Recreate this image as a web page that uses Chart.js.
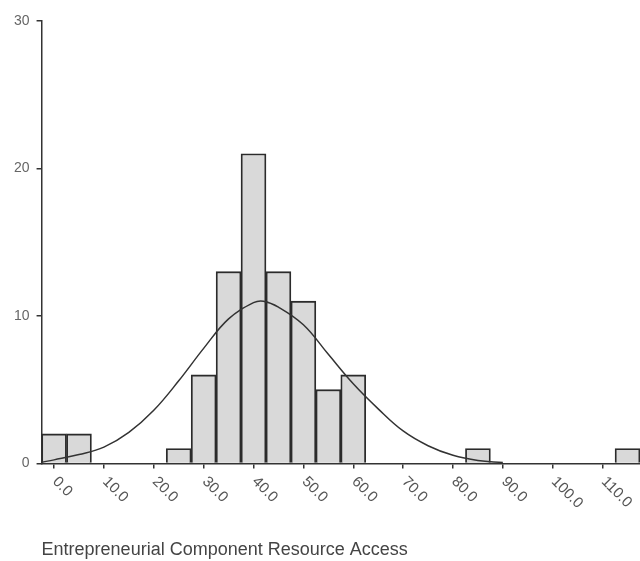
<!DOCTYPE html>
<html>
<head>
<meta charset="utf-8">
<script src="https://cdn.jsdelivr.net/npm/chart.js@4"></script>
<style>
  html, body { margin: 0; padding: 0; background: #fff; }
  #wrap { width: 640px; height: 561px; position: relative; }
</style>
</head>
<body>
<div id="wrap"><canvas id="chart"></canvas></div>
<script>
// histogram bins (midpoints, bin width 5) and counts
const binCenters = [0, 5, 25, 30, 35, 40, 45, 50, 55, 60, 85, 115];
const binCounts  = [2, 2, 1, 6, 13, 21, 13, 11, 5, 6, 1, 1];

// normal curve drawn over the histogram
const curveX = [-2.5, 0, 5, 10, 15, 20, 25, 30, 35, 40, 42, 45, 50, 55, 60, 65, 70, 75, 80, 85, 90];
const curveY = [0.08, 0.24, 0.6, 1.1, 2.1, 3.6, 5.6, 7.8, 9.8, 10.9, 11.0, 10.6, 9.4, 7.4, 5.4, 3.7, 2.2, 1.2, 0.55, 0.2, 0.06];

// axes
const xTicks = [0, 10, 20, 30, 40, 50, 60, 70, 80, 90, 100, 110];
const xTickLabels = ['0.0', '10.0', '20.0', '30.0', '40.0', '50.0', '60.0', '70.0', '80.0', '90.0', '100.0', '110.0'];
const yTicks = [0, 10, 20, 30];
const xTitle = 'Entrepreneurial Component Resource Access';

const FONT = '"Liberation Sans", Arial, sans-serif';

// x labels run down-right from each tick, which Chart.js can't rotate that way
const slantedLabels = {
    id: 'slantedLabels',
    afterDraw(chart) {
        const { ctx, scales: { x } } = chart;
        ctx.save();
        ctx.font = '15px ' + FONT;
        ctx.fillStyle = '#555';
        ctx.textAlign = 'left';
        ctx.textBaseline = 'middle';
        xTicks.forEach((v, i) => {
            ctx.save();
            ctx.translate(x.getPixelForValue(v) + 1, x.top + 16);
            ctx.rotate(Math.PI / 4);
            ctx.fillText(xTickLabels[i], 0, 0);
            ctx.restore();
        });
        ctx.restore();
    }
};

new Chart(document.getElementById('chart'), {
    data: {
        datasets: [
            {
                type: 'line',
                data: curveX.map((v, i) => ({ x: v, y: curveY[i] })),
                borderColor: '#333',
                borderWidth: 1.5,
                pointRadius: 0,
                fill: false,
                tension: 0.4,
                order: 0
            },
            {
                type: 'bar',
                data: binCenters.map((v, i) => ({ x: v, y: binCounts[i] })),
                backgroundColor: '#d9d9d9',
                borderColor: '#2b2b2b',
                borderWidth: 1.8,
                barPercentage: 1,
                categoryPercentage: 1,
                grouped: false,
                order: 1
            }
        ]
    },
    options: {
        responsive: true,
        maintainAspectRatio: false,
        animation: false,
        layout: { padding: { top: 21, left: 7, right: 0, bottom: 0 } },
        plugins: { legend: { display: false }, tooltip: { enabled: false } },
        scales: {
            x: {
                type: 'linear',
                min: -2.5,
                max: 117.5,
                offset: false,
                afterBuildTicks: s => { s.ticks = xTicks.map(v => ({ value: v })); },
                ticks: { display: false },
                grid: { display: true, offset: false, drawOnChartArea: false, drawTicks: true, tickLength: 5, color: '#333', lineWidth: 1.5 },
                border: { display: true, color: '#333', width: 1.5 },
                title: {
                    display: true,
                    text: xTitle,
                    align: 'start',
                    color: '#444',
                    font: { size: 18, family: FONT },
                    padding: { top: 71, bottom: 0 }
                }
            },
            y: {
                type: 'linear',
                min: 0,
                max: 30,
                afterBuildTicks: s => { s.ticks = yTicks.map(v => ({ value: v })); },
                ticks: { color: '#666', font: { size: 14, family: FONT }, padding: 7 },
                grid: { display: true, drawOnChartArea: false, drawTicks: true, tickLength: 5, color: '#333', lineWidth: 1.5 },
                border: { display: true, color: '#333', width: 1.5 }
            }
        }
    },
    plugins: [slantedLabels]
});
</script>
</body>
</html>
